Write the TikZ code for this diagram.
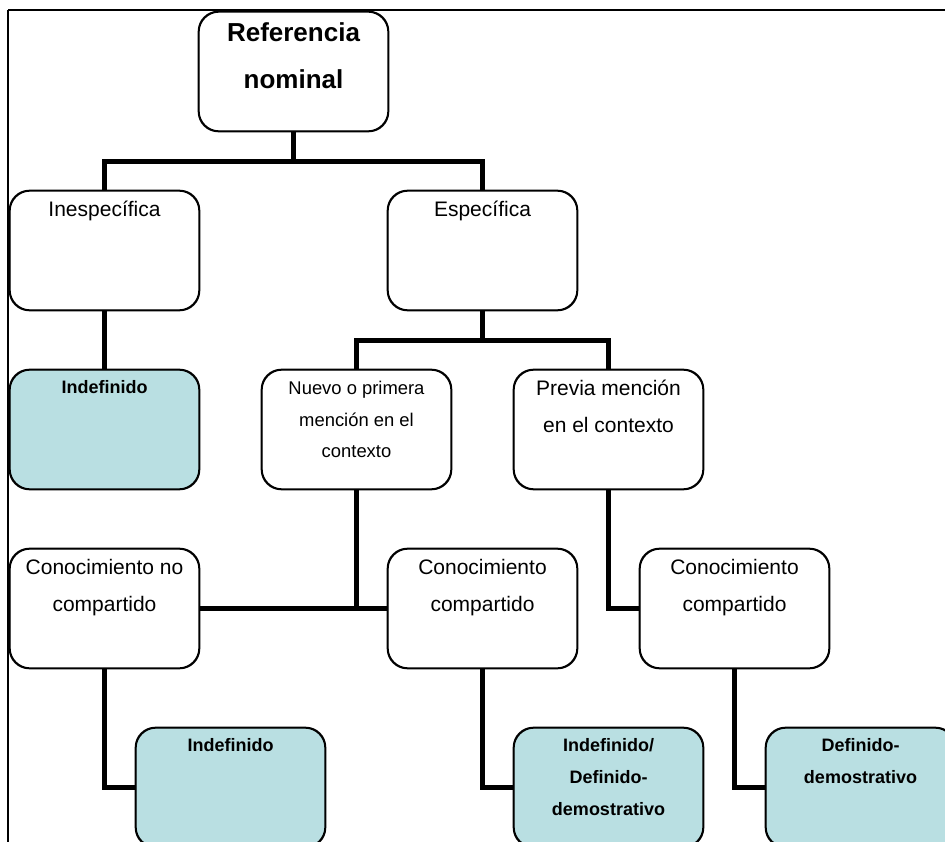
\documentclass[tikz,border=0pt]{standalone}
\usepackage{fontspec}
\setmainfont{Liberation Sans}
\definecolor{leafblue}{RGB}{185,223,226}
\tikzset{
  box/.style={draw=black, line width=1.3pt, rounded corners=20pt, fill=white,
    minimum width=189pt, minimum height=119pt, inner sep=0pt},
  leaf/.style={box, fill=leafblue},
  conn/.style={line width=5pt, line join=miter},
  lbl/.style={anchor=base, align=center, inner sep=0pt},
  big/.style={lbl, font=\fontsize{26}{47}\selectfont\bfseries},
  mid/.style={lbl, font=\fontsize{21}{37.5}\selectfont},
  small/.style={lbl, font=\fontsize{18.4}{31.7}\selectfont},
  bold/.style={lbl, font=\fontsize{18}{32.3}\selectfont\bfseries},
}
\begin{document}
\begin{tikzpicture}[x=1pt,y=-1pt]
\useasboundingbox (0,0) rectangle (945,842);
\clip (0,0) rectangle (945,842);
% frame
\draw[line width=2pt] (8,10) -- (946,10);
\draw[line width=1.3pt] (8,10) -- (8,843);

% boxes
\node[box]  (ref)    at (293.5,71.5)  {};
\node[box]  (inesp)  at (104.5,250.5) {};
\node[box]  (esp)    at (482.5,250.5) {};
\node[leaf] (indefA) at (104.5,429.5) {};
\node[box]  (nuevo)  at (356.5,429.5) {};
\node[box]  (previa) at (608.5,429.5) {};
\node[box]  (cnc)    at (104.5,608.5) {};
\node[box]  (ccA)    at (482.5,608.5) {};
\node[box]  (ccB)    at (734.5,608.5) {};
\node[leaf] (indefB) at (230.5,787.5) {};
\node[leaf] (indefC) at (608.5,787.5) {};
\node[leaf] (defd)   at (860.5,787.5) {};

% connectors
\coordinate (j1) at ([yshift=-30pt]ref.south);
\coordinate (j2) at ([yshift=-30pt]esp.south);
\draw[conn] (ref.south) -- (j1);
\draw[conn] (inesp.north) |- (j1) -| (esp.north);
\draw[conn] (inesp.south) -- (indefA.north);
\draw[conn] (esp.south) -- (j2);
\draw[conn] (nuevo.north) |- (j2) -| (previa.north);
\draw[conn] (nuevo.south) -- (nuevo.south |- cnc.east);
\draw[conn] (cnc.east) -- (ccA.west);
\draw[conn] (previa.south) |- (ccB.west);
\draw[conn] (cnc.south) |- (indefB.west);
\draw[conn] (ccA.south) |- (indefC.west);
\draw[conn] (ccB.south) |- (defd.west);

% redraw borders over connector ends
\foreach \n in {ref,inesp,esp,indefA,nuevo,previa,cnc,ccA,ccB,indefB,indefC,defd}
  \draw[line width=1.3pt, rounded corners=20pt] (\n.south west) rectangle (\n.north east);

% labels (anchor = baseline of the last line)
\node[big]   (tref)    at ([yshift=-77.4pt]ref.north)    {Referencia\\nominal};
\node[mid]   (tinesp)  at ([yshift=-26pt]inesp.north)    {Inespecífica};
\node[mid]   (tesp)    at ([yshift=-26pt]esp.north)      {Específica};
\node[bold]  (tindefA) at ([yshift=-24pt]indefA.north)   {Indefinido};
\node[small] (tnuevo)  at ([yshift=-88.4pt]nuevo.north)  {Nuevo o primera\\mención en el\\contexto};
\node[mid]   (tprevia) at ([yshift=-63.2pt]previa.north) {Previa mención\\en el contexto};
\node[mid]   (tcnc)    at ([yshift=-63.6pt]cnc.north)    {Conocimiento no\\compartido};
\node[mid]   (tccA)    at ([yshift=-63.6pt]ccA.north)    {Conocimiento\\compartido};
\node[mid]   (tccB)    at ([yshift=-63.6pt]ccB.north)    {Conocimiento\\compartido};
\node[bold]  (tindefB) at ([yshift=-24pt]indefB.north)   {Indefinido};
\node[bold]  (tindefC) at ([yshift=-88.6pt]indefC.north) {Indefinido/\\Definido-\\demostrativo};
\node[bold]  (tdefd)   at ([yshift=-56.6pt]defd.north)   {Definido-\\demostrativo};
\end{tikzpicture}
\end{document}
